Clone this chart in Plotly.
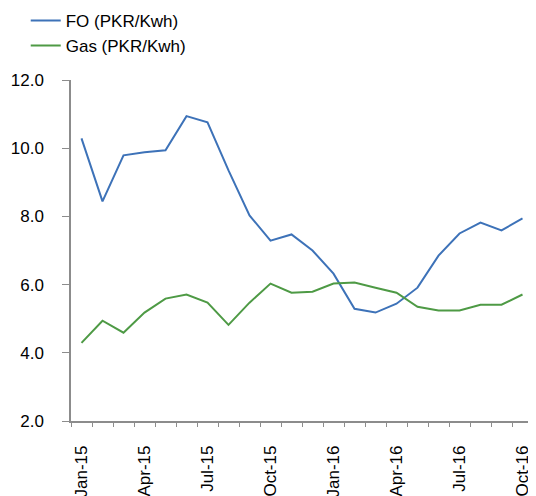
import plotly.graph_objects as go

months = ["Jan-15", "Feb-15", "Mar-15", "Apr-15", "May-15", "Jun-15", "Jul-15",
          "Aug-15", "Sep-15", "Oct-15", "Nov-15", "Dec-15", "Jan-16", "Feb-16",
          "Mar-16", "Apr-16", "May-16", "Jun-16", "Jul-16", "Aug-16", "Sep-16", "Oct-16"]
fo = [10.29, 8.44, 9.79, 9.88, 9.94, 10.94, 10.76, 9.35, 8.03, 7.29, 7.47, 7.00,
      6.32, 5.29, 5.18, 5.44, 5.91, 6.85, 7.50, 7.82, 7.59, 7.94]
gas = [4.29, 4.94, 4.59, 5.18, 5.59, 5.71, 5.47, 4.82, 5.47, 6.03, 5.76, 5.79,
       6.03, 6.06, 5.91, 5.76, 5.35, 5.24, 5.24, 5.41, 5.41, 5.71]
ytick_vals = [2, 4, 6, 8, 10, 12]
ytick_text = ["2.0", "4.0", "6.0", "8.0", "10.0", "12.0"]
xtick_text = [m if i % 3 == 0 else "" for i, m in enumerate(months)]

FONT = "Liberation Sans, Arial, sans-serif"
AXIS = "#8c8c8c"

fig = go.Figure()
fig.add_trace(go.Scatter(x=months, y=fo, mode="lines", name="FO (PKR/Kwh)",
                         line=dict(color="#3D72B8", width=2)))
fig.add_trace(go.Scatter(x=months, y=gas, mode="lines", name="Gas (PKR/Kwh)",
                         line=dict(color="#4E9A45", width=2)))

fig.update_layout(
    width=536, height=496,
    margin=dict(l=63, r=11, t=72, b=83, autoexpand=False),
    paper_bgcolor="white", plot_bgcolor="white",
    font=dict(family=FONT, size=17, color="#000000"),
    showlegend=True,
    legend=dict(x=-0.098, y=1.226, xanchor="left", yanchor="top",
                bgcolor="rgba(0,0,0,0)", font=dict(size=17),
                tracegroupgap=0, itemwidth=30),
    xaxis=dict(type="category", tickmode="array", tickvals=months, ticktext=xtick_text,
               tickangle=-90, tickson="boundaries", ticks="outside", ticklen=4,
               tickcolor=AXIS, showline=True, linecolor=AXIS, linewidth=1.5,
               showgrid=False, zeroline=False, ticklabelstandoff=16, automargin=False,
               range=[-0.5, len(months) - 0.5]),
    yaxis=dict(range=[2, 12], tickmode="array", tickvals=ytick_vals, ticktext=ytick_text,
               ticks="outside", ticklen=7, tickcolor=AXIS, showline=True,
               linecolor=AXIS, linewidth=1.5, showgrid=False, zeroline=False,
               ticklabelstandoff=15, automargin=False),
)

fig.write_html("out.html")
